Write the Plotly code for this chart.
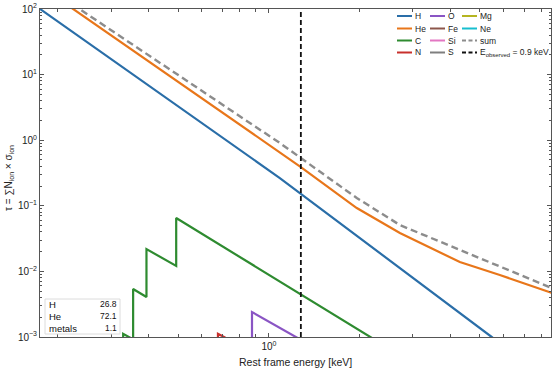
"""Optical depth per ion vs rest frame energy (plotly)."""
import plotly.graph_objects as go

# --- data --------------------------------------------------------------
E_H = [0.1745, 1.087, 5.47, 8.65]
TAU_H = [100, 0.265, 1.0e-3, 2.06e-4]

E_HE = [0.1745, 0.2244, 1.276, 1.955, 2.716, 4.29, 5.82, 8.65]
TAU_HE = [224, 100, 0.390, 0.0925, 0.0385, 0.0139, 8.81e-3, 4.69e-3]

E_C = [0.2, 0.329, 0.329, 0.355, 0.355, 0.393, 0.393, 0.493, 0.493, 2.16, 3.0]
TAU_C = [4e-4, 1e-4, 1.12e-3, 9.2e-4, 5.4e-3, 4.07e-3, 0.0219, 0.0121,
         0.0652, 1.0e-3, 4.0e-4]

E_N = [0.5, 0.678, 0.678, 0.710, 1.27]
TAU_N = [4e-4, 1.6e-4, 1.12e-3, 1.0e-3, 2.2e-4]

E_O = [0.7, 0.879, 0.879, 1.228, 2.0]
TAU_O = [5e-4, 2.7e-4, 2.4e-3, 1.0e-3, 2.8e-4]

# below the plotted range, kept for completeness
E_FE = [1.0, 1.36, 1.36, 3.0]
TAU_FE = [1e-4, 6e-5, 3e-4, 5e-5]
E_SI = [1.5, 2.67, 2.67, 5.0]
TAU_SI = [5e-5, 2e-5, 2e-4, 3e-5]
E_S = [2.0, 3.5, 3.5, 6.0]
TAU_S = [3e-5, 1e-5, 1e-4, 2e-5]
E_MG = [1.2, 1.96, 1.96, 4.0]
TAU_MG = [6e-5, 3e-5, 2.5e-4, 3e-5]
E_NE = [0.8, 1.36, 1.36, 3.0]
TAU_NE = [8e-5, 3e-5, 4e-4, 5e-5]

E_SUM = [0.1745, 0.2357, 1.087, 1.276, 1.955, 2.716, 4.29, 5.82, 8.65]
TAU_SUM = [340, 100, 0.906, 0.536, 0.1315, 0.0509, 0.0212, 0.01167, 5.58e-3]

E_OBS_REST = 1.276   # 0.9 keV observed, shifted to the rest frame

TABLE_LABELS = ["H", "He", "metals"]
TABLE_VALUES = ["26.8", "72.1", "1.1"]

Y_RANGE = [1e-3, 1e2]

COLORS = {
    "H": "#2a6ea8", "He": "#e8761a", "C": "#2e8b30", "N": "#c8302c",
    "O": "#8a55c4", "Fe": "#8c564b", "Si": "#e377c2", "S": "#7f7f7f",
    "Mg": "#b5b521", "Ne": "#17becf", "sum": "#8c8c8c", "obs": "#111111",
}

# --- pixel geometry of the plot area -------------------------------------
W, H = 556, 371
PL, PR, PT, PB = 40, 551, 9, 337


def px(x):
    return (x - PL) / (PR - PL)


def py(y):
    return (PB - y) / (PB - PT)


fig = go.Figure()

series = [
    ("C", E_C, TAU_C), ("N", E_N, TAU_N), ("O", E_O, TAU_O),
    ("Fe", E_FE, TAU_FE), ("Si", E_SI, TAU_SI), ("S", E_S, TAU_S),
    ("Mg", E_MG, TAU_MG), ("Ne", E_NE, TAU_NE),
    ("H", E_H, TAU_H), ("He", E_HE, TAU_HE),
]
for name, xs, ys in series:
    fig.add_trace(go.Scatter(x=xs, y=ys, mode="lines", name=name,
                             showlegend=False,
                             line=dict(color=COLORS[name], width=2.2)))

fig.add_trace(go.Scatter(x=E_SUM, y=TAU_SUM, mode="lines", name="sum",
                         showlegend=False,
                         line=dict(color=COLORS["sum"], width=2.4,
                                   dash="7px,4px")))
fig.add_trace(go.Scatter(x=[E_OBS_REST, E_OBS_REST], y=Y_RANGE, mode="lines",
                         showlegend=False,
                         line=dict(color=COLORS["obs"], width=1.8,
                                   dash="5px,3px")))

# --- axes --------------------------------------------------------------
AX = dict(type="log", showgrid=False, zeroline=False, showline=True,
          automargin=False,
          linecolor="#555555", linewidth=1, mirror="ticks", ticks="inside",
          ticklen=4, tickcolor="#555555",
          tickfont=dict(size=10, color="#222222"))

x_minor = [m * 10 ** d for d in (-1, 0) for m in range(2, 10)]
y_minor = [m * 10 ** d for d in range(-3, 2) for m in range(2, 10)]

fig.update_xaxes(**AX, range=[-0.7583, 0.9345],
                 tickvals=[1], ticktext=["10<sup>0</sup>"],
                 minor=dict(tickvals=x_minor, ticks="inside", ticklen=3,
                            tickcolor="#555555"))
fig.update_yaxes(**AX, range=[-3, 2],
                 tickvals=[10 ** k for k in range(-3, 3)],
                 ticktext=[f"10<sup>{k}</sup>".replace("-", "\u2212")
                           for k in range(-3, 3)],
                 minor=dict(tickvals=y_minor, ticks="inside", ticklen=2,
                            tickcolor="#555555"))

shapes = []
annotations = []

# axis titles
annotations.append(dict(x=0.5, y=py(362), xref="paper", yref="paper",
                        text="Rest frame energy [keV]", showarrow=False,
                        xanchor="center", yanchor="middle",
                        font=dict(size=10.5, color="#222222")))
annotations.append(dict(x=px(9), y=py(178), xref="paper", yref="paper",
                        text="\u03c4 = \u2211N<sub>ion</sub> \u00d7 \u03c3<sub>ion</sub>",
                        textangle=-90, showarrow=False,
                        xanchor="center", yanchor="middle",
                        font=dict(size=10, color="#222222")))

# --- legend (3 columns, column-major like the reference) ----------------
legend_cols = [
    [("H", "solid"), ("He", "solid"), ("C", "solid"), ("N", "solid")],
    [("O", "solid"), ("Fe", "solid"), ("Si", "solid"), ("S", "solid")],
    [("Mg", "solid"), ("Ne", "solid"), ("sum", "dash"), ("obs", "dash")],
]
legend_x0 = [397, 430, 462]
legend_rows = [16, 28.5, 40.5, 52.5]
for ci, col in enumerate(legend_cols):
    for ri, (key, dash) in enumerate(col):
        x0 = legend_x0[ci]
        x1 = x0 + 15
        y = legend_rows[ri]
        shapes.append(dict(type="line", xref="paper", yref="paper",
                           x0=px(x0), x1=px(x1), y0=py(y), y1=py(y),
                           line=dict(color=COLORS[key], width=2,
                                     dash="4px,2.5px" if dash == "dash" else "solid")))
        label = "E<sub>observed</sub> = 0.9 keV" if key == "obs" else key
        annotations.append(dict(x=px(x1 + 0.5), y=py(y), xref="paper",
                                yref="paper", text=label, showarrow=False,
                                xanchor="left", yanchor="middle",
                                font=dict(size=8.5, color="#222222")))

# --- abundance table (bottom left) --------------------------------------
shapes.append(dict(type="rect", xref="paper", yref="paper",
                   x0=px(45), x1=px(120), y0=py(334), y1=py(299),
                   line=dict(color="#dcdcdc", width=1), fillcolor="white",
                   layer="above"))
table_rows = [304, 316, 328]
for lab, val, y in zip(TABLE_LABELS, TABLE_VALUES, table_rows):
    annotations.append(dict(x=px(46.5), y=py(y), xref="paper", yref="paper",
                            text=lab, showarrow=False, xanchor="left",
                            yanchor="middle",
                            font=dict(size=9.5, color="#111111")))
    annotations.append(dict(x=px(119), y=py(y), xref="paper", yref="paper",
                            text=val, showarrow=False, xanchor="right",
                            yanchor="middle",
                            font=dict(size=8.5, color="#111111")))

fig.update_layout(
    width=W, height=H,
    margin=dict(l=PL, r=W - PR, t=PT, b=H - PB),
    paper_bgcolor="white", plot_bgcolor="white",
    font=dict(family="Liberation Sans, Arial, sans-serif"),
    showlegend=False, hovermode=False,
    shapes=shapes, annotations=annotations,
)

# the browser's default 8px body margin would shift the whole figure
fig.write_html("out.html", config={"displayModeBar": False},
               post_script="document.body.style.margin='0';")
